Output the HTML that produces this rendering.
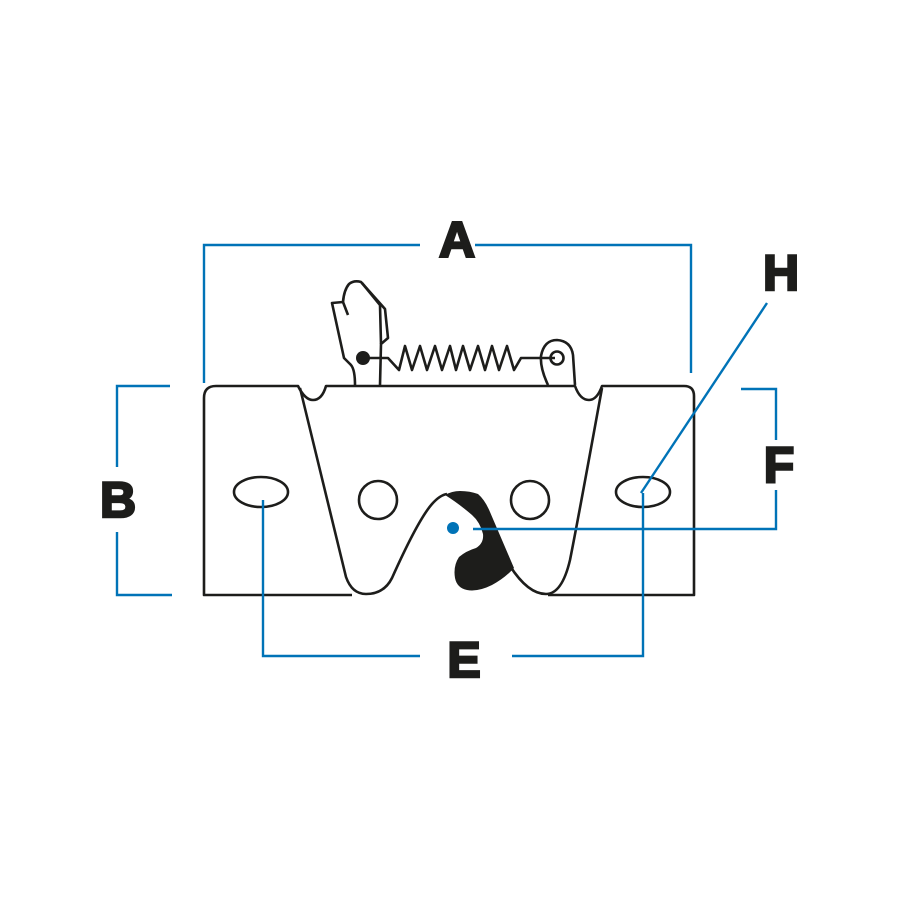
<!DOCTYPE html>
<html><head><style>html,body{margin:0;padding:0;background:#fff}svg{display:block}</style></head>
<body>
<svg width="900" height="900" viewBox="0 0 900 900" xmlns="http://www.w3.org/2000/svg">
<g fill="none" stroke="#1d1d1b" stroke-width="2.6" stroke-linejoin="round">
<path d="M352,595 L204,595 L204,398 Q204,386 216,386 L298,386 Q305,400 313,400 Q322,400 326,386 L575,386 Q580,400 589,400 Q597,400 602,386 L684,386 Q694,386 694,396 L694,595 L548,595"/>
<path d="M300,388 L346,577 Q352,594 366,594 Q384,594 392,578 Q418,520 432,504 Q440,495 447,494"/>
<path d="M510,566 Q528,594 546,594 Q562,594 570,560 Q578,520 602,388"/>
<ellipse cx="261" cy="492" rx="27" ry="15"/>
<ellipse cx="643" cy="492" rx="27" ry="15"/>
<circle cx="378" cy="500" r="19"/>
<circle cx="530" cy="500" r="19"/>
<path d="M355,385 Q355,368 350,364 L344,358 L332,303 L343,302 Q344,290 349,284 Q354,280 361,282 L385,309 L388,338 L381,344 L380,385"/>
<path d="M343,302 L348,315"/>
<path d="M362,283 L380,305 L381,344"/>
<path d="M363,358 L388,358 L399,370 L405,346 L412,370 L420,346 L427,370 L435,346 L442,370 L450,346 L456,370 L463,346 L470,370 L478,346 L485,370 L492,346 L499,370 L507,346 L514,370 L521,358 L555,358"/>
<circle cx="557" cy="358" r="6.5"/>
<path d="M548,385 Q540,368 541,356 Q544,340 557,340 Q571,341 573,355 L575,385"/>
</g>
<circle cx="363" cy="358" r="7" fill="#1d1d1b"/>
<path fill="#1d1d1b" d="M445,495 Q452,491 460,491 Q470,491 478,494 Q485,500 490,512 L514,568 Q505,578 492,585 Q478,592 467,590 Q457,588 455,578 Q453,566 459,557 Q466,551 476,548 Q484,543 483,534 Q480,522 472,515 Q458,503 445,495 Z"/>
<g fill="none" stroke="#0073b7" stroke-width="2.4">
<path d="M204,383 L204,245 L420,245 M475,245 L691,245 L691,373"/>
<path d="M170,386 L117,386 L117,467 M117,532 L117,595 L172,595"/>
<path d="M741,389 L776,389 L776,440 M776,490 L776,529 L473,529"/>
<path d="M263,500 L263,656 L420,656 M512,656 L643,656 L643,493"/>
<path d="M767,303 L641,493"/>
</g>
<circle cx="453" cy="528" r="6" fill="#0073b7"/>
<g font-family="Liberation Sans, sans-serif" font-weight="bold" font-size="50" fill="#1d1d1b" stroke="#1d1d1b" stroke-width="2.5" text-anchor="middle">
<text x="457" y="257">A</text>
<text x="118" y="517">B</text>
<text x="779" y="482">F</text>
<text x="781" y="290">H</text>
<text x="464" y="677">E</text>
</g>
</svg>
</body></html>
